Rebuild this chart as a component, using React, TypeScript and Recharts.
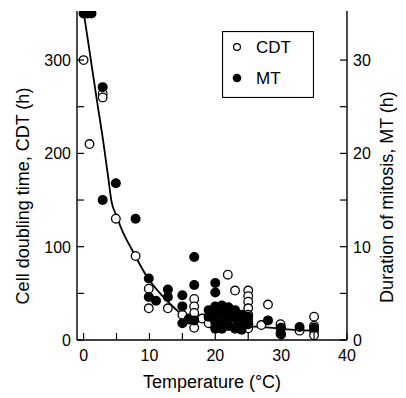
import React from 'react';
import { ComposedChart, Scatter, Line, XAxis, YAxis } from 'recharts';

// temperature (°C) / cell doubling time (h)
const cdtT = [0, 0.9, 2.9, 2.9, 4.9, 7.9, 9.9, 9.9, 12.8, 15, 16, 16.8, 16.8, 16.8, 16.8, 18, 19, 19, 20, 20, 20, 20, 21, 21, 21, 21.9, 22, 22, 22, 23, 23, 23, 24, 24, 25, 25, 25, 25, 25, 25, 25, 27, 28, 29.9, 29.9, 29.9, 32.8, 35, 35, 35, 35];
const cdtV = [300, 210, 264, 260, 130, 90, 55, 34, 34, 27, 23, 44, 36, 29, 13, 23, 24, 18, 30, 25, 20, 14, 30, 21, 14, 70, 30, 23, 18, 53, 20, 12, 22, 14, 53, 47, 41, 34, 27, 20, 12.5, 16, 38, 17, 12.5, 7, 10, 25, 15, 10, 5];

// temperature (°C) / duration of mitosis (h)
const mtT = [0, 0.6, 1.2, 2.9, 2.9, 4.9, 7.9, 9.9, 9.9, 11, 12.8, 12.8, 15, 15, 15, 16, 16.8, 16.8, 16.8, 19, 19, 20, 20, 20, 20, 20, 20, 21, 21, 21, 21, 22, 22, 22, 23, 23, 23, 24, 24, 24, 25, 25, 28, 30, 30, 32.8, 35];
const mtV = [35, 35, 35, 27.1, 15, 16.8, 13, 6.6, 4.6, 4.2, 5.4, 4.6, 4.8, 3.6, 1.8, 2.2, 8.9, 5.9, 2.1, 3.2, 2.5, 6.1, 5.1, 3.6, 2.9, 1.9, 1.2, 3.7, 2.8, 1.9, 1.2, 3.5, 2.5, 1.5, 3.2, 2.3, 1.3, 2.7, 1.8, 1.1, 2.5, 1.7, 2.1, 1.3, 0.6, 1.4, 1.3];

// fitted curve
const fitT = [0, 1, 2, 3, 3.8, 4.2, 5, 6, 7.1, 8, 9.6, 12, 14, 15, 16, 18, 20, 22, 25, 27, 30, 35];
const fitV = [352, 305, 258, 212, 171, 150, 133, 115, 100, 88, 68, 47, 33, 27, 24, 20, 18, 16.5, 14.5, 14, 12, 10];

const xTicks = [0, 5, 10, 15, 20, 25, 30, 35, 40];
const leftTicks = [0, 50, 100, 150, 200, 250, 300];
const rightTicks = [0, 5, 10, 15, 20, 25, 30];

const cdt = cdtT.map((t, i) => ({ t, v: cdtV[i] }));
const mt = mtT.map((t, i) => ({ t, v: mtV[i] }));
const fit = fitT.map((t, i) => ({ t, v: fitV[i] }));

const FONT = '"Liberation Sans", Arial, sans-serif';

const BottomTick = ({ x, y, payload }: any) => (
  <g>
    <line x1={x} y1={y} x2={x} y2={y - 7} stroke="#000" strokeWidth={1.2} />
    {payload.value % 10 === 0 && (
      <text x={x} y={y + 21} textAnchor="middle" fontSize={16} fontFamily={FONT} fill="#000">{payload.value}</text>
    )}
  </g>
);

const LeftTick = ({ x, y, payload }: any) => (
  <g>
    <line x1={x} y1={y} x2={x + 7} y2={y} stroke="#000" strokeWidth={1.2} />
    {payload.value % 100 === 0 && (
      <text x={x - 6} y={y + 6} textAnchor="end" fontSize={16} fontFamily={FONT} fill="#000">{payload.value}</text>
    )}
  </g>
);

const RightTick = ({ x, y, payload }: any) => (
  <g>
    <line x1={x} y1={y} x2={x - 7} y2={y} stroke="#000" strokeWidth={1.2} />
    {payload.value % 10 === 0 && (
      <text x={x + 6} y={y + 6} textAnchor="start" fontSize={16} fontFamily={FONT} fill="#000">{payload.value}</text>
    )}
  </g>
);

const OpenDot = (p: any) => <circle cx={p.cx} cy={p.cy} r={4.3} fill="#fff" stroke="#000" strokeWidth={1.3} />;
const FilledDot = (p: any) => <circle cx={p.cx} cy={p.cy} r={5} fill="#000" />;

const AxisTitle = ({ x, y, angle, children }: any) => (
  <text x={x} y={y} transform={`rotate(${angle} ${x} ${y})`} textAnchor="middle" dominantBaseline="central" fontSize={18} fontFamily={FONT} fill="#000">
    {children}
  </text>
);

const LegendBox = () => (
  <svg width={92} height={67} style={{ position: 'absolute', left: 222, top: 31, fontFamily: FONT }}>
    <rect x={0.5} y={0.5} width={91} height={66} fill="#fff" stroke="#000" strokeWidth={1.2} />
    <circle cx={15} cy={16} r={3.4} fill="#fff" stroke="#000" strokeWidth={1.2} />
    <text x={34} y={22} fontSize={17}>CDT</text>
    <circle cx={15} cy={47} r={4.3} fill="#000" />
    <text x={34} y={53} fontSize={17}>MT</text>
  </svg>
);

export default function App() {
  return (
    <div style={{ position: 'relative', width: 406, height: 398, fontFamily: FONT }}>
      <style>{`body{margin:0}`}</style>
      <ComposedChart width={406} height={398} margin={{ top: 11, right: 0, bottom: 0, left: 0 }}>
        <XAxis
          type="number"
          dataKey="t"
          domain={[-1, 40]}
          ticks={xTicks}
          height={58}
          tickSize={0}
          tickMargin={0}
          tick={<BottomTick />}
          axisLine={{ stroke: '#000', strokeWidth: 1.4 }}
          allowDataOverflow
          label={() => <AxisTitle x={212} y={382} angle={0}>Temperature (°C)</AxisTitle>}
        />
        <XAxis xAxisId="top" orientation="top" type="number" domain={[-1, 40]} height={0} tick={false} tickLine={false} axisLine={{ stroke: '#000', strokeWidth: 1.4 }} />
        <YAxis
          yAxisId="cdt"
          type="number"
          domain={[0, 352.6]}
          ticks={leftTicks}
          width={77}
          tickSize={0}
          tickMargin={0}
          tick={<LeftTick />}
          axisLine={{ stroke: '#000', strokeWidth: 1.4 }}
          allowDataOverflow
          label={() => <AxisTitle x={23} y={196} angle={-90}>Cell doubling time, CDT (h)</AxisTitle>}
        />
        <YAxis
          yAxisId="mt"
          orientation="right"
          type="number"
          domain={[0, 35.26]}
          ticks={rightTicks}
          width={59}
          tickSize={0}
          tickMargin={0}
          tick={<RightTick />}
          axisLine={{ stroke: '#000', strokeWidth: 1.4 }}
          allowDataOverflow
          label={() => <AxisTitle x={387} y={197} angle={-90}>Duration of mitosis, MT (h)</AxisTitle>}
        />
        <Line data={fit} dataKey="v" yAxisId="cdt" type="monotone" dot={false} stroke="#000" strokeWidth={1.8} isAnimationActive={false} />
        <Scatter data={cdt} dataKey="v" yAxisId="cdt" shape={OpenDot} isAnimationActive={false} />
        <Scatter data={mt} dataKey="v" yAxisId="mt" shape={FilledDot} isAnimationActive={false} />
      </ComposedChart>
      <LegendBox />
    </div>
  );
}
